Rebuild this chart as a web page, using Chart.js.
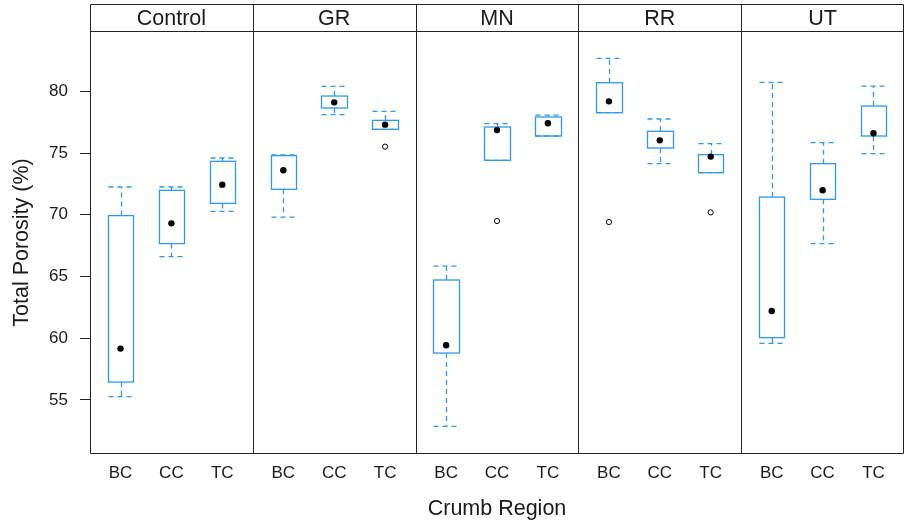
<!DOCTYPE html>
<html>
<head>
<meta charset="utf-8">
<script src="https://cdn.jsdelivr.net/npm/chart.js@4.4.1/dist/chart.umd.min.js"></script>
<style>
  html, body { margin: 0; padding: 0; background: #ffffff; }
  #wrap { width: 904px; height: 523px; }
</style>
</head>
<body>
<div id="wrap"><canvas id="c" width="904" height="523"></canvas></div>
<script>
// ---- data ----
const groups  = ['Control', 'GR', 'MN', 'RR', 'UT'];
const regions = ['BC', 'CC', 'TC'];
// one entry per group x region, in order Control BC, CC, TC, GR BC, ...
const lowerWhisker = [55.26, 66.60, 70.28,  69.81, 78.11, 76.92,  52.85, 74.41, 76.38,  78.27, 74.14, 73.41,  59.58, 67.66, 74.95];
const q1           = [56.44, 67.66, 70.92,  72.06, 78.65, 76.92,  58.79, 74.41, 76.38,  78.27, 75.41, 73.41,  60.04, 71.25, 76.38];
const medians      = [59.15, 69.30, 72.44,  73.60, 79.11, 77.30,  59.42, 76.86, 77.41,  79.19, 76.03, 74.71,  62.20, 71.98, 76.60];
const q3           = [69.93, 71.98, 74.33,  74.79, 79.62, 77.65,  64.71, 77.11, 77.92,  80.70, 76.76, 74.87,  71.43, 74.14, 78.81];
const upperWhisker = [72.25, 72.25, 74.60,  74.84, 80.41, 78.38,  65.84, 77.38, 78.08,  82.67, 77.76, 75.76,  80.73, 75.84, 80.43];
const outlierGroup  = ['GR', 'MN', 'RR', 'RR'];
const outlierRegion = ['TC', 'CC', 'BC', 'TC'];
const outlierValue  = [75.52, 69.49, 69.41, 70.19];
const yTicks = [55, 60, 65, 70, 75, 80];

// ---- layout in scale units: each panel spans 3.2 units, categories at 1,2,3 within 0.4..3.6 ----
const PANEL = 3.2;
function xPos(gi, ri) { return gi * PANEL + 0.6 + ri; }
const tickPositions = [];
groups.forEach((g, gi) => regions.forEach((r, ri) => tickPositions.push(xPos(gi, ri))));

const medianPts = medians.map((v, i) => ({ x: xPos(Math.floor(i / 3), i % 3), y: v }));
const outlierPts = outlierValue.map((v, i) => ({ x: xPos(groups.indexOf(outlierGroup[i]), regions.indexOf(outlierRegion[i])), y: v }));

const BLUE = '#2f97ee';
const FRAME = '#222222';
const TEXT = '#1a1a1a';
const FONT = '"Liberation Sans", Arial, sans-serif';

const boxPlugin = {
  id: 'boxes',
  beforeDatasetsDraw(chart) {
    const { ctx, chartArea: ca, scales: { x, y } } = chart;
    ctx.save();
    ctx.beginPath();
    ctx.rect(ca.left, ca.top, ca.right - ca.left, ca.bottom - ca.top);
    ctx.clip();
    ctx.strokeStyle = BLUE;
    ctx.lineWidth = 1.3;
    const half = 0.25;
    for (let i = 0; i < medians.length; i++) {
      const gi = Math.floor(i / 3), ri = i % 3;
      const c = xPos(gi, ri);
      const xl = Math.round(x.getPixelForValue(c - half)) + 0.5;
      const xr = Math.round(x.getPixelForValue(c + half)) + 0.5;
      const xc = Math.round(x.getPixelForValue(c)) + 0.5;
      const yq1 = y.getPixelForValue(q1[i]);
      const yq3 = y.getPixelForValue(q3[i]);
      const ylo = y.getPixelForValue(lowerWhisker[i]);
      const yhi = y.getPixelForValue(upperWhisker[i]);
      // whiskers (dashed)
      ctx.setLineDash([5, 4]);
      ctx.beginPath();
      ctx.moveTo(xc, yq3); ctx.lineTo(xc, yhi);
      ctx.moveTo(xc, yq1); ctx.lineTo(xc, ylo);
      ctx.moveTo(xl, yhi); ctx.lineTo(xr, yhi);
      ctx.moveTo(xl, ylo); ctx.lineTo(xr, ylo);
      ctx.stroke();
      // box (solid)
      ctx.setLineDash([]);
      ctx.strokeRect(xl, yq3, xr - xl, yq1 - yq3);
    }
    ctx.restore();
  },
  afterDraw(chart) {
    const { ctx, chartArea: ca, scales: { x } } = chart;
    const stripTop = 4.5, stripBot = Math.round(ca.top) - 0.5;
    ctx.save();
    ctx.strokeStyle = FRAME;
    ctx.lineWidth = 1;
    const L = Math.round(ca.left) + 0.5, R = Math.round(ca.right) - 0.5, B = Math.round(ca.bottom) + 0.5;
    ctx.beginPath();
    ctx.moveTo(L, stripTop); ctx.lineTo(R, stripTop);
    ctx.moveTo(L, stripBot); ctx.lineTo(R, stripBot);
    ctx.moveTo(L, B); ctx.lineTo(R, B);
    for (let gi = 0; gi <= groups.length; gi++) {
      let px = Math.round(x.getPixelForValue(gi * PANEL)) + 0.5;
      if (gi === groups.length) px = R;
      if (gi === 0) px = L;
      ctx.moveTo(px, stripTop); ctx.lineTo(px, B);
    }
    ctx.stroke();
    ctx.fillStyle = TEXT;
    ctx.font = '21.5px ' + FONT;
    ctx.textAlign = 'center';
    ctx.textBaseline = 'middle';
    groups.forEach((g, gi) => {
      const cx = x.getPixelForValue(gi * PANEL + PANEL / 2);
      ctx.fillText(g, cx, (stripTop + stripBot) / 2 + 1);
    });
    ctx.restore();
  }
};

new Chart(document.getElementById('c'), {
  type: 'scatter',
  data: {
    datasets: [
      { label: 'median', data: medianPts, pointRadius: 3.2, pointHoverRadius: 3.2,
        backgroundColor: '#000000', borderWidth: 0, pointBorderWidth: 0 },
      { label: 'outlier', data: outlierPts, pointRadius: 2.6, pointHoverRadius: 2.6,
        backgroundColor: '#ffffff', borderColor: '#000000', pointBorderWidth: 1 }
    ]
  },
  options: {
    responsive: false,
    animation: false,
    layout: { autoPadding: false, padding: { left: 0, right: 0, top: 32, bottom: 0 } },
    plugins: { legend: { display: false }, tooltip: { enabled: false } },
    scales: {
      x: {
        type: 'linear', min: 0, max: groups.length * PANEL,
        border: { display: false },
        grid: { display: false, drawTicks: false },
        afterBuildTicks(scale) { scale.ticks = tickPositions.map(v => ({ value: v })); },
        afterFit(scale) { scale.height = 70; scale.paddingLeft = 0; scale.paddingRight = 0; },
        ticks: {
          autoSkip: false, maxRotation: 0, padding: 10, color: TEXT,
          font: { family: FONT, size: 17 },
          callback: (v, i) => regions[i % regions.length]
        },
        title: { display: true, text: 'Crumb Region', color: TEXT,
          font: { family: FONT, size: 21.5 }, padding: { top: 0, bottom: 1 } }
      },
      y: {
        type: 'linear', min: 50.69, max: 84.81,
        border: { display: false },
        grid: { drawOnChartArea: false, drawTicks: true, tickLength: 10, color: FRAME, lineWidth: 1 },
        afterBuildTicks(scale) { scale.ticks = yTicks.map(v => ({ value: v })); },
        afterFit(scale) { scale.width = 90; },
        ticks: { padding: 12, color: TEXT, font: { family: FONT, size: 17 } },
        title: { display: true, text: 'Total Porosity (%)', color: TEXT,
          font: { family: FONT, size: 21.5 }, padding: { top: 9, bottom: 0 } }
      }
    }
  },
  plugins: [boxPlugin]
});
</script>
</body>
</html>
